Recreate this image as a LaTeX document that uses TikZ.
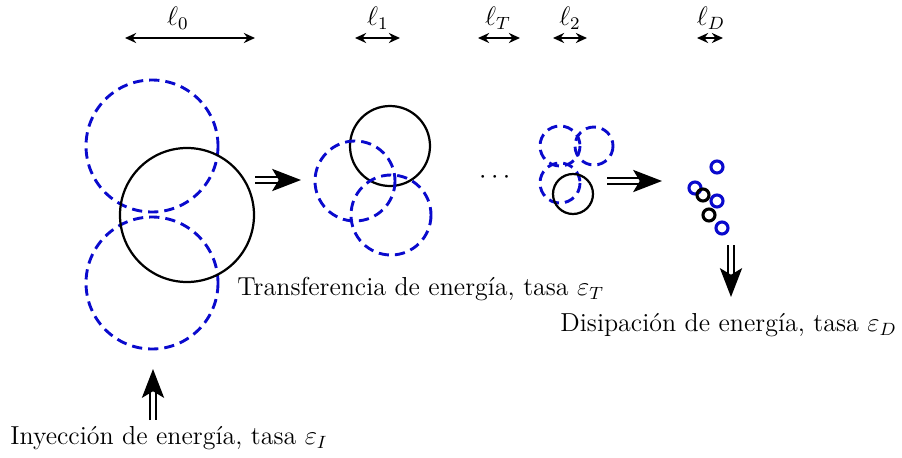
\documentclass[tikz,border=0pt]{standalone}
\usepackage{tikz}
\usetikzlibrary{arrows.meta,positioning,calc}
\usepackage{amsmath,amssymb}
\definecolor{EddyBlue}{RGB}{10,10,205}
\tikzset{
  eddy/.style={draw=black,line width=1pt},
  eddydash/.style={draw=EddyBlue,line width=1.3pt,dash pattern=on 4.6pt off 2.7pt},
  blob/.style={draw=EddyBlue,line width=1.4pt},
  blobk/.style={draw=black,line width=1.4pt},
  scalearrow/.style={{Stealth[length=5pt,width=4.5pt]}-{Stealth[length=5pt,width=4.5pt]},
    line width=1.2pt},
  cascade/.style={-{Stealth[length=13pt,width=10pt,inset=3pt]},double,double distance=1.8pt,
    line width=0.8pt},
  caption/.style={inner sep=0pt,font=\fontsize{11.7}{14}\selectfont},
}
\begin{document}
\begin{tikzpicture}[x=0.45pt,y=-0.45pt]
  \useasboundingbox (0,0) rectangle (902,457);
  % length scales
  \coordinate (a0) at (125,38);  \coordinate (b0) at (255,38);
  \coordinate (a1) at (355,38);  \coordinate (b1) at (400,38);
  \coordinate (aT) at (478,38);  \coordinate (bT) at (520,38);
  \coordinate (a2) at (553,38);  \coordinate (b2) at (587,38);
  \coordinate (aD) at (697,38);  \coordinate (bD) at (723,38);
  \draw[scalearrow] (a0) -- (b0);
  \draw[scalearrow] (a1) -- (b1);
  \draw[scalearrow] (aT) -- (bT);
  \draw[scalearrow] (a2) -- (b2);
  \draw[scalearrow] (aD) -- (bD);
  \node[caption] (l0) at (178,18) {$\ell_0$};
  \node[caption] (l1) at (378,18) {$\ell_1$};
  \node[caption] (lT) at (498,18) {$\ell_T$};
  \node[caption] (l2) at (570,18) {$\ell_2$};
  \node[caption] (lD) at (711,18) {$\ell_D$};
  % large eddies
  \draw[eddydash] (152,146) circle (66);
  \draw[eddydash] (152,283) circle (66);
  \draw[eddy] (187,215) circle (67);
  % ell_1 eddies
  \draw[eddy] (390,146) circle (40);
  \draw[eddydash] (355,181) circle (40);
  \draw[eddydash] (391,215) circle (40);
  \node[caption] (dots) at (497,178) {$\cdots$};
  % ell_2 eddies
  \draw[eddydash] (560,146) circle (20);
  \draw[eddydash] (594,146) circle (19);
  \draw[eddydash] (560,183) circle (20);
  \draw[eddy] (573,194) circle (20);
  % dissipative eddies
  \foreach \p in {(717,167),(695,188),(717,201),(722,228)}
    \draw[blob] \p circle (6);
  \foreach \p in {(703,195),(709,215)}
    \draw[blobk] \p circle (6);
  % cascade arrows
  \coordinate (c1a) at (255,180); \coordinate (c1b) at (301,180);
  \coordinate (c2a) at (607,181); \coordinate (c2b) at (662,181);
  \coordinate (inj) at (153,420); \coordinate (injtip) at (153,369);
  \coordinate (dis) at (731,245); \coordinate (distip) at (731,297);
  \draw[cascade] (c1a) -- (c1b);
  \draw[cascade] (c2a) -- (c2b);
  \draw[cascade] (inj) -- (injtip);
  \draw[cascade] (dis) -- (distip);
  % captions
  \node[caption,anchor=west] (transf) at (237,289)
    {Transferencia de energ\'{\i}a, tasa $\varepsilon_T$};
  \node[caption,anchor=west] (disip) at (560,325)
    {Disipaci\'on de energ\'{\i}a, tasa $\varepsilon_D$};
  \node[caption,anchor=west] (inyec) at (10,438)
    {Inyecci\'on de energ\'{\i}a, tasa $\varepsilon_I$};
\end{tikzpicture}
\end{document}
